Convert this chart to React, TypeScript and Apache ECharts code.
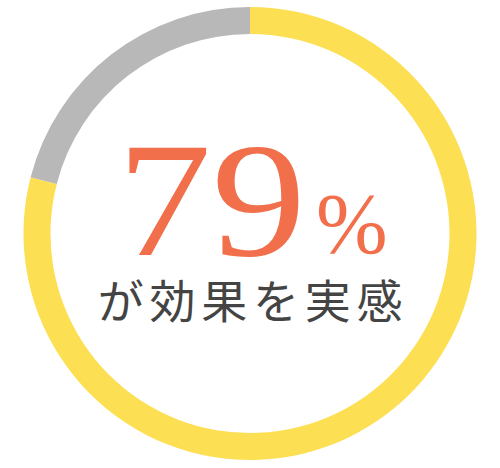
import React, { useEffect, useRef } from 'react';
import * as echarts from 'echarts';

const categories = ['効果を実感', 'その他'];
const values = [79, 21];
const colors = ['#FCDF52', '#B8B8B8'];
const caption = 'が効果を実感';

const App: React.FC = () => {
  const chartRef = useRef<HTMLDivElement>(null);

  useEffect(() => {
    document.body.style.margin = '0';
    if (!chartRef.current) return;
    const myChart = echarts.init(chartRef.current, undefined, { renderer: 'svg' });

    const option = {
      animation: false,
      backgroundColor: '#ffffff',
      graphic: [
        {
          type: 'text',
          x: 306,
          y: 200,
          scaleX: 1.16,
          style: {
            text: String(values[0]),
            fill: '#F26F4B',
            font: '163px "Liberation Serif", serif',
            textAlign: 'right',
            textVerticalAlign: 'middle'
          }
        },
        {
          type: 'text',
          x: 316,
          y: 224,
          style: {
            text: '%',
            fill: '#F26F4B',
            font: '86px "Liberation Serif", serif',
            textAlign: 'left',
            textVerticalAlign: 'middle'
          }
        },
        {
          type: 'text',
          x: 250,
          y: 298,
          style: {
            text: caption.split('').join('\u200A\u200A'),
            fill: '#444444',
            font: '46px "Noto Sans CJK JP", sans-serif',
            textAlign: 'center',
            textVerticalAlign: 'middle'
          }
        }
      ],
      series: [
        {
          type: 'pie',
          center: [250, 233.5],
          radius: [199.5, 226.5],
          startAngle: 90,
          clockwise: true,
          silent: true,
          label: { show: false },
          labelLine: { show: false },
          data: categories.map((name, i) => ({
            name,
            value: values[i],
            itemStyle: { color: colors[i] }
          }))
        }
      ]
    };

    myChart.setOption(option);
    const resizeHandler = () => myChart.resize();
    window.addEventListener('resize', resizeHandler);
    return () => {
      window.removeEventListener('resize', resizeHandler);
      myChart.dispose();
    };
  }, []);

  return <div ref={chartRef} style={{ width: '500px', height: '468px' }} />;
};

export default App;
